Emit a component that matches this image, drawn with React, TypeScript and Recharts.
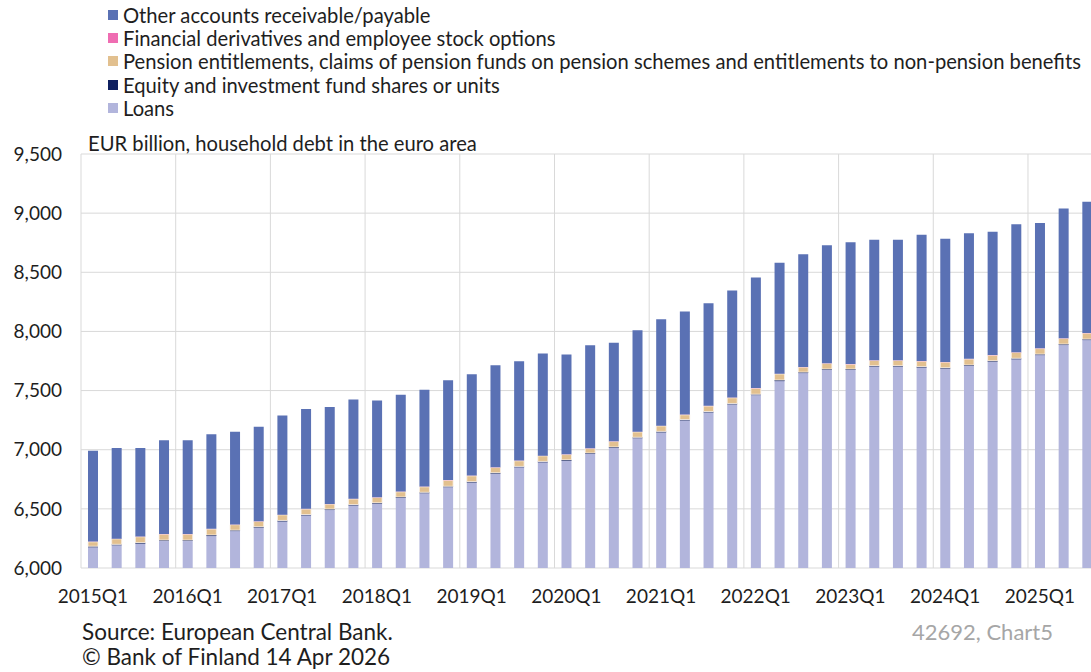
import { BarChart, Bar, XAxis, YAxis, CartesianGrid } from 'recharts';

const quarters = [
  '2015Q1', '2015Q2', '2015Q3', '2015Q4',
  '2016Q1', '2016Q2', '2016Q3', '2016Q4',
  '2017Q1', '2017Q2', '2017Q3', '2017Q4',
  '2018Q1', '2018Q2', '2018Q3', '2018Q4',
  '2019Q1', '2019Q2', '2019Q3', '2019Q4',
  '2020Q1', '2020Q2', '2020Q3', '2020Q4',
  '2021Q1', '2021Q2', '2021Q3', '2021Q4',
  '2022Q1', '2022Q2', '2022Q3', '2022Q4',
  '2023Q1', '2023Q2', '2023Q3', '2023Q4',
  '2024Q1', '2024Q2', '2024Q3', '2024Q4',
  '2025Q1', '2025Q2', '2025Q3',
];

// EUR billion
const loans = [
  6175, 6192, 6205, 6228, 6228, 6270, 6312, 6340, 6393, 6444, 6490, 6528,
  6543, 6592, 6632, 6683, 6722, 6797, 6851, 6893, 6905, 6964, 7015, 7097,
  7146, 7247, 7315, 7383, 7461, 7580, 7648, 7674, 7674, 7702, 7702, 7694,
  7685, 7708, 7744, 7764, 7800, 7885, 7927,
];
const equity = [
  9, 8, 9, 8, 8, 9, 8, 8, 9, 8, 8, 8,
  8, 8, 8, 8, 8, 8, 8, 8, 9, 8, 8, 8,
  9, 8, 8, 8, 8, 9, 8, 8, 8, 8, 8, 8,
  8, 8, 8, 9, 8, 8, 8,
];
const pension = [
  37, 46, 50, 50, 50, 50, 46, 46, 47, 46, 42, 47,
  45, 44, 46, 50, 49, 44, 47, 47, 45, 38, 46, 45,
  46, 40, 46, 48, 50, 51, 42, 47, 40, 44, 44, 46,
  47, 50, 46, 50, 47, 47, 50,
];
const derivatives = [
  2, 2, 2, 2, 2, 2, 2, 2, 2, 2, 2, 2,
  2, 2, 2, 2, 2, 2, 2, 2, 2, 2, 2, 2,
  2, 2, 2, 2, 2, 2, 2, 2, 2, 2, 2, 2,
  2, 2, 2, 2, 2, 2, 2,
];
const otherAccounts = [
  768, 767, 749, 792, 792, 800, 784, 799, 838, 845, 820, 839,
  818, 818, 820, 845, 857, 863, 840, 863, 844, 871, 834, 857,
  900, 871, 868, 905, 934, 938, 952, 997, 1029, 1020, 1020, 1068,
  1042, 1061, 1043, 1081, 1059, 1098, 1110,
];

const yTicks = [6000, 6500, 7000, 7500, 8000, 8500, 9000, 9500];

const series = [
  { key: 'other', name: 'Other accounts receivable/payable', color: '#5a71b4' },
  { key: 'derivatives', name: 'Financial derivatives and employee stock options', color: '#ef6db2' },
  { key: 'pension', name: 'Pension entitlements, claims of pension funds on pension schemes and entitlements to non-pension benefits', color: '#e2c08f' },
  { key: 'equity', name: 'Equity and investment fund shares or units', color: '#0f2060' },
  { key: 'loans', name: 'Loans', color: '#b2b5dc' },
];

const data = quarters.map((q, i) => ({
  q,
  loans: loans[i],
  equity: equity[i],
  pension: pension[i],
  derivatives: derivatives[i],
  other: otherAccounts[i],
}));

const FONT = 'Lato, "Open Sans", sans-serif';
const TEXT = '#1e1e1e';

const colorOf = (k: string) => series.find((s) => s.key === k)!.color;

export default function App() {
  return (
    <div
      style={{
        position: 'fixed',
        left: 0,
        top: 0,
        width: 1091,
        height: 672,
        overflow: 'hidden',
        background: '#fff',
        fontFamily: FONT,
        color: TEXT,
      }}
    >
      {/* legend */}
      <div style={{ position: 'absolute', left: 108, top: 3, fontSize: 20.2 }}>
        {series.map((s) => (
          <div key={s.key} style={{ display: 'flex', alignItems: 'center', height: 23.3, whiteSpace: 'nowrap' }}>
            <span style={{ width: 10, height: 10, background: s.color, marginRight: 5, display: 'inline-block' }} />
            <span>{s.name}</span>
          </div>
        ))}
      </div>

      <div style={{ position: 'absolute', left: 88, top: 131, fontSize: 20.2, lineHeight: '24px' }}>
        EUR billion, household debt in the euro area
      </div>

      <div style={{ position: 'absolute', left: 0, top: 0 }}>
        <BarChart
          width={1110}
          height={672}
          data={data}
          margin={{ top: 154, right: 11, left: 0, bottom: 74 }}
          barSize={10}
        >
          <CartesianGrid
            stroke="#d9d9d9"
            strokeWidth={1}
            verticalCoordinatesGenerator={({ offset }: any) => {
              const band = offset.width / quarters.length;
              const xs: number[] = [];
              for (let k = 0; k * 4 < quarters.length; k++) xs.push(offset.left + k * 4 * band);
              return xs;
            }}
          />
          <XAxis
            dataKey="q"
            height={30}
            interval={3}
            axisLine={false}
            tickLine={false}
            tickSize={0}
            tickMargin={22}
            tick={{ fill: TEXT, fontSize: 19, fontFamily: FONT }}
          />
          <YAxis
            width={81}
            domain={[6000, 9500]}
            ticks={yTicks}
            allowDataOverflow
            axisLine={false}
            tickLine={false}
            tickSize={0}
            tickMargin={19}
            tickFormatter={(v: number) => v.toLocaleString('en-US')}
            tick={{ fill: TEXT, fontSize: 19, fontFamily: FONT }}
          />
          <Bar dataKey="loans" stackId="a" fill={colorOf('loans')} isAnimationActive={false} />
          <Bar dataKey="equity" stackId="a" fill={colorOf('equity')} isAnimationActive={false} />
          <Bar
            dataKey="pension"
            stackId="a"
            fill={colorOf('pension')}
            stroke="#fbf3e8"
            strokeWidth={0.8}
            isAnimationActive={false}
          />
          <Bar dataKey="derivatives" stackId="a" fill={colorOf('derivatives')} isAnimationActive={false} />
          <Bar dataKey="other" stackId="a" fill={colorOf('other')} isAnimationActive={false} />
        </BarChart>
      </div>

      <div style={{ position: 'absolute', left: 82, top: 618, fontSize: 22.5, lineHeight: '28px' }}>
        Source: European Central Bank.
      </div>
      <div style={{ position: 'absolute', left: 82, top: 643, fontSize: 22.5, lineHeight: '28px' }}>
        © Bank of Finland 14 Apr 2026
      </div>
      <div style={{ position: 'absolute', left: 912, top: 618, fontSize: 22, lineHeight: '28px', color: '#a6a6a6' }}>
        42692, Chart5
      </div>
    </div>
  );
}
